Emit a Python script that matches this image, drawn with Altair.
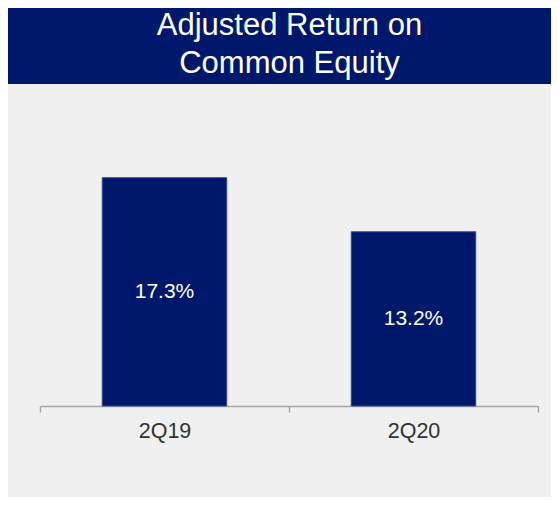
import altair as alt
import pandas as pd

title_lines = ["Adjusted Return on", "Common Equity"]
quarters = ["2Q19", "2Q20"]
roe_values = [17.3, 13.2]

NAVY = "#00186c"
GRAY_BG = "#f0f0f0"
FONT = "Liberation Sans"

df = pd.DataFrame({"quarter": quarters, "roe": roe_values})
df["label"] = [f"{v:.1f}%" for v in roe_values]

title_df = pd.DataFrame({"t": ["\n".join(title_lines)]})

W = 543

banner = (
    alt.Chart(title_df)
    .mark_text(
        color="white", font=FONT, fontSize=31, lineBreak="\n", lineHeight=38,
        align="center", baseline="middle",
    )
    .encode(text="t:N", x=alt.value(281.5), y=alt.value(18))
    .properties(width=W, height=76, view=alt.ViewConfig(fill=NAVY, stroke=None))
)

y_scale = alt.Scale(domain=[0, 24.4], nice=False, zero=True)

x_enc = alt.X(
    "quarter:N",
    sort=quarters,
    title=None,
    scale=alt.Scale(range=[32, 530], paddingInner=0, paddingOuter=0),
    axis=alt.Axis(
        labelAngle=0, labelFont=FONT, labelFontSize=21.5, labelColor="#333333",
        labelPadding=8, tickBand="extent", tickSize=6, tickColor="#a6a6a6",
        tickWidth=1.5, domainColor="#a6a6a6", domainWidth=1.5,
    ),
)

bars = (
    alt.Chart(df)
    .mark_bar(width={"band": 0.5}, color=NAVY, stroke="#2f4b8e", strokeWidth=1)
    .encode(
        x=x_enc,
        y=alt.Y("roe:Q", axis=None, scale=y_scale),
    )
)

labels = (
    alt.Chart(df)
    .transform_calculate(mid="datum.roe / 2")
    .mark_text(color="white", font=FONT, fontSize=21, baseline="middle")
    .encode(
        x=alt.X("quarter:N", sort=quarters),
        y=alt.Y("mid:Q", scale=y_scale),
        text="label:N",
    )
)

bottom = (
    alt.layer(bars, labels)
    .properties(width=W, height=322, view=alt.ViewConfig(fill=GRAY_BG, stroke=None))
)

chart = (
    alt.vconcat(banner, bottom, spacing=0, bounds="flush")
    .properties(background=GRAY_BG, padding={"left": 0, "top": 0, "right": 0, "bottom": 55})
    .configure_view(stroke=None)
)

chart.save("out.html", embed_options={"renderer": "svg", "actions": False})
